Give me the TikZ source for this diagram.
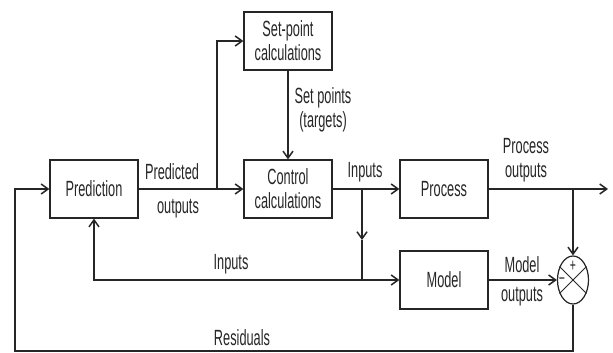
\documentclass[tikz,border=0pt]{standalone}
\usepackage{fontspec}
\setmainfont{Liberation Sans}[FakeStretch=0.58]
\usetikzlibrary{arrows.meta, shapes.geometric}

\begin{document}
\begin{tikzpicture}[x=1pt, y=-1pt,
    blk/.style={draw=black!85, line width=1.2pt, minimum width=88pt, minimum height=58pt,
        inner sep=1pt, align=center, text=black!85, font=\fontsize{22}{24}\selectfont},
    lbl/.style={align=center, inner sep=1pt, text=black!85, font=\fontsize{22}{24}\selectfont},
    wire/.style={draw=black!85, line width=1.5pt},
    sig/.style={wire, -{Straight Barb[length=7pt, width=10pt]}}]
    \useasboundingbox (0, 0) rectangle (613, 353);
    % blocks
    \node[blk] (pred) at (94, 189) {Prediction};
    \node[blk] (setp) at (288, 41) {Set-point\\calculations};
    \node[blk] (ctrl) at (288, 189) {Control\\calculations};
    \node[blk] (proc) at (444, 189) {Process};
    \node[blk] (model) at (444, 280) {Model};
    \node[draw=black!85, line width=1.2pt, ellipse, minimum width=31pt, minimum height=48pt,
        inner sep=0pt] (sum) at (573, 280) {};
    \draw[black!85, line width=1pt] (sum.45) -- (sum.225);
    \draw[black!85, line width=1pt] (sum.135) -- (sum.315);
    \node[text=black!85, inner sep=0pt, font=\fontsize{18}{18}\selectfont] (plus) at (573, 266) {+};
    \node[text=black!85, inner sep=0pt, font=\fontsize{18}{18}\selectfont] (minus) at (562, 281) {−};
    % branch points
    \coordinate (split1) at (217, 189);
    \coordinate (split2) at (362, 189);
    \coordinate (mid) at (362, 240);
    \coordinate (split3) at (362, 280);
    \coordinate (split4) at (573, 189);
    \coordinate (out) at (608, 189);
    \coordinate (resl) at (15, 351);
    % signals
    \draw[sig] (pred) -- (ctrl);
    \draw[sig] (split1) |- (setp);
    \draw[sig] (setp) -- (ctrl);
    \draw[sig] (ctrl) -- (proc);
    \draw[sig] (split2) -- (mid);
    \draw[wire] (mid) -- (split3);
    \draw[sig] (split3) -- (model);
    \draw[sig] (split3) -| (pred);
    \draw[sig] (proc) -- (out);
    \draw[sig] (split4) -- (sum);
    \draw[sig] (model) -- (sum);
    \draw[sig] (sum) |- (resl) |- (pred);
    % labels
    \node[lbl] (l1) at (172, 172) {Predicted};
    \node[lbl] (l2) at (178, 209) {outputs};
    \node[lbl] (l3) at (323, 110) {Set points\\(targets)};
    \node[lbl] (l4) at (365, 172) {Inputs};
    \node[lbl] (l5) at (526, 160) {Process\\outputs};
    \node[lbl] (l6) at (231, 264) {Inputs};
    \node[lbl] (l7) at (522, 265) {Model};
    \node[lbl] (l8) at (522, 297) {outputs};
    \node[lbl] (l9) at (242, 338) {Residuals};
\end{tikzpicture}
\end{document}
